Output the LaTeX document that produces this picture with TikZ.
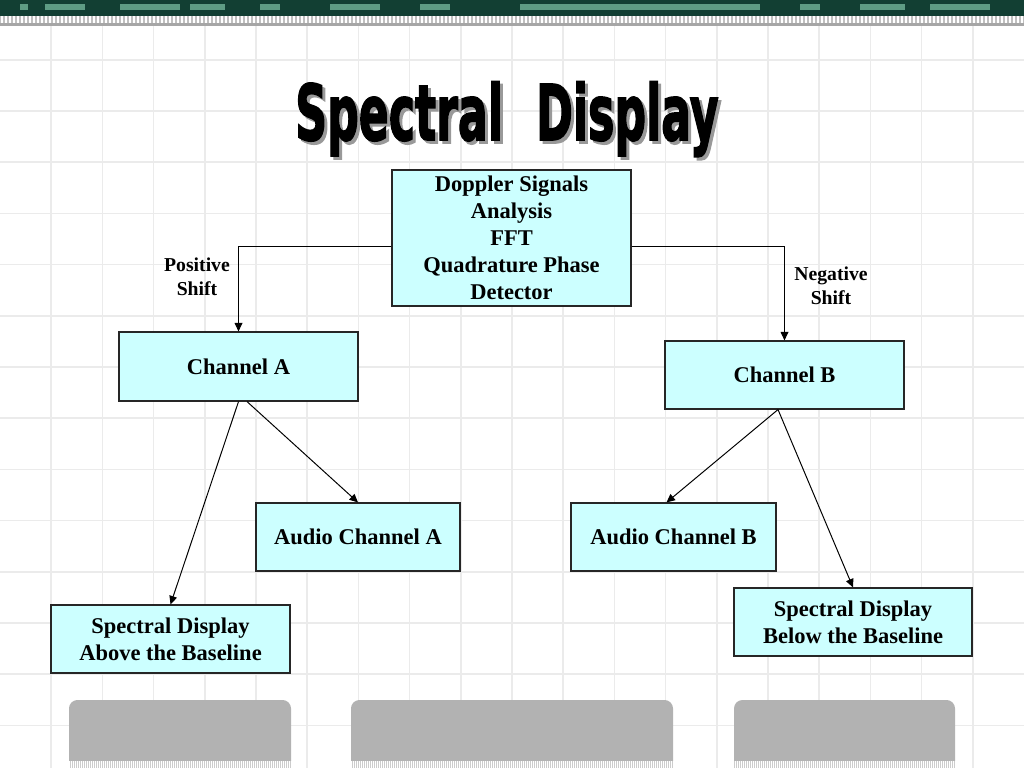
\documentclass[tikz,border=0pt]{standalone}
\usepackage{fontspec}
\usepackage{graphicx}
\setmainfont{Liberation Serif}
\newfontfamily\titlefont{DejaVu Sans}[FakeBold=2.5]
\usetikzlibrary{positioning, arrows.meta, calc}
\definecolor{boxcyan}{HTML}{CCFFFF}
\definecolor{boardgreen}{HTML}{123F33}
\definecolor{tracegreen}{HTML}{5E9C84}
\definecolor{panelgray}{HTML}{B2B2B2}
\definecolor{gridgray}{HTML}{EBEBEB}
\tikzset{
  block/.style={draw=black!85, line width=0.8pt, fill=boxcyan, align=center,
    font=\fontsize{16}{19.2}\selectfont\bfseries, inner sep=0pt},
  link/.style={-{Triangle[length=6pt,width=5.5pt]}, line width=0.7pt},
  shiftlabel/.style={align=center, font=\fontsize{14}{17}\selectfont\bfseries},
  titletext/.style={anchor=base west, inner sep=0pt}
}
\newcommand{\slidetitle}{\resizebox{301pt}{\height}{\titlefont\bfseries\fontsize{54.6}{60}\selectfont Spectral\hspace{.75em}Display}}
\begin{document}
\begin{tikzpicture}[x=0.025cm, y=-0.025cm]
      \useasboundingbox (0,0) rectangle (1024,768);
      \fill[white] (0,0) rectangle (1024,768);
      \foreach \k in {1,...,19}
        \draw[gridgray, line width=1.2pt] (51.2*\k,26) -- (51.2*\k,768);
      \foreach \k in {0,...,13}
        \draw[gridgray, line width=1.2pt] (0,59.8+51.2*\k) -- (1024,59.8+51.2*\k);
      \fill[boardgreen] (0,0) rectangle (1024,16);
      \foreach \x/\w in {20/8, 45/40, 120/60, 190/35, 260/20, 330/50, 420/30, 520/240, 800/20, 860/45, 930/60}
        \fill[tracegreen] (\x,4) rectangle ++(\w,6);
      \fill[black!25] (0,16) rectangle (1024,23);
      \foreach \x in {0,4,...,1020}
        \fill[white] (\x+1,16) rectangle ++(2,7);
      \fill[black!35] (0,23) rectangle (1024,26);
      \foreach \a/\b in {69/291, 351/673, 734/955} {
        \fill[panelgray] (\a,761) [rounded corners=6pt] -- (\a,700) -- (\b,700) [sharp corners] -- (\b,761) -- cycle;
        \fill[black!20] (\a,761) rectangle (\b,768);
        \foreach \x in {\a,...,\b}
          {\ifodd\x \fill[white] (\x,761) rectangle ++(1,7); \fi}
      }
      \node[titletext, text=black!40] (titleshadow) at (298,143) {\slidetitle};
      \node[titletext] (title) at (295,140) {\slidetitle};
      \node[
      block,
      minimum width=5.975cm,
      minimum height=3.4cm
      ] (dsa) at (511.5,238) {Doppler Signals\\Analysis\\FFT\\Quadrature Phase\\Detector};
      \node[
      block,
      minimum width=5.975cm,
      minimum height=1.725cm
      ] (chA) at (238.5,366.5) {Channel A};
      \node[
      block,
      minimum width=5.975cm,
      minimum height=1.7cm
      ] (chB) at (784.5,375) {Channel B};
      \node[
      block,
      minimum width=5.1cm,
      minimum height=1.7cm
      ] (audA) at (358,537) {Audio Channel A};
      \node[
      block,
      minimum width=5.125cm,
      minimum height=1.7cm
      ] (audB) at (673.5,537) {Audio Channel B};
      \node[
      block,
      minimum width=5.975cm,
      minimum height=1.7cm
      ] (specA) at (170.5,639) {Spectral Display\\Above the Baseline};
      \node[
      block,
      minimum width=5.95cm,
      minimum height=1.7cm
      ] (specB) at (853,622) {Spectral Display\\Below the Baseline};
      \node[shiftlabel] (pos) at (197,277) {Positive\\Shift};
      \node[shiftlabel] (neg) at (831,285.5) {Negative\\Shift};
      \draw[link] ($(dsa.west)+(0,8)$) -| (chA.north);
      \draw[link] ($(dsa.east)+(0,8)$) -| (chB.north);
      \draw[link] ($(chA.south)+(8.5,0)$) -- (audA.north);
      \draw[link] (chA.south) -- (specA.north);
      \draw[link] ($(chB.south)+(-6.5,0)$) -- ($(audB.north)+(-7,0)$);
      \draw[link] ($(chB.south)+(-6.5,0)$) -- (specB.north);
    \end{tikzpicture}
\end{document}
